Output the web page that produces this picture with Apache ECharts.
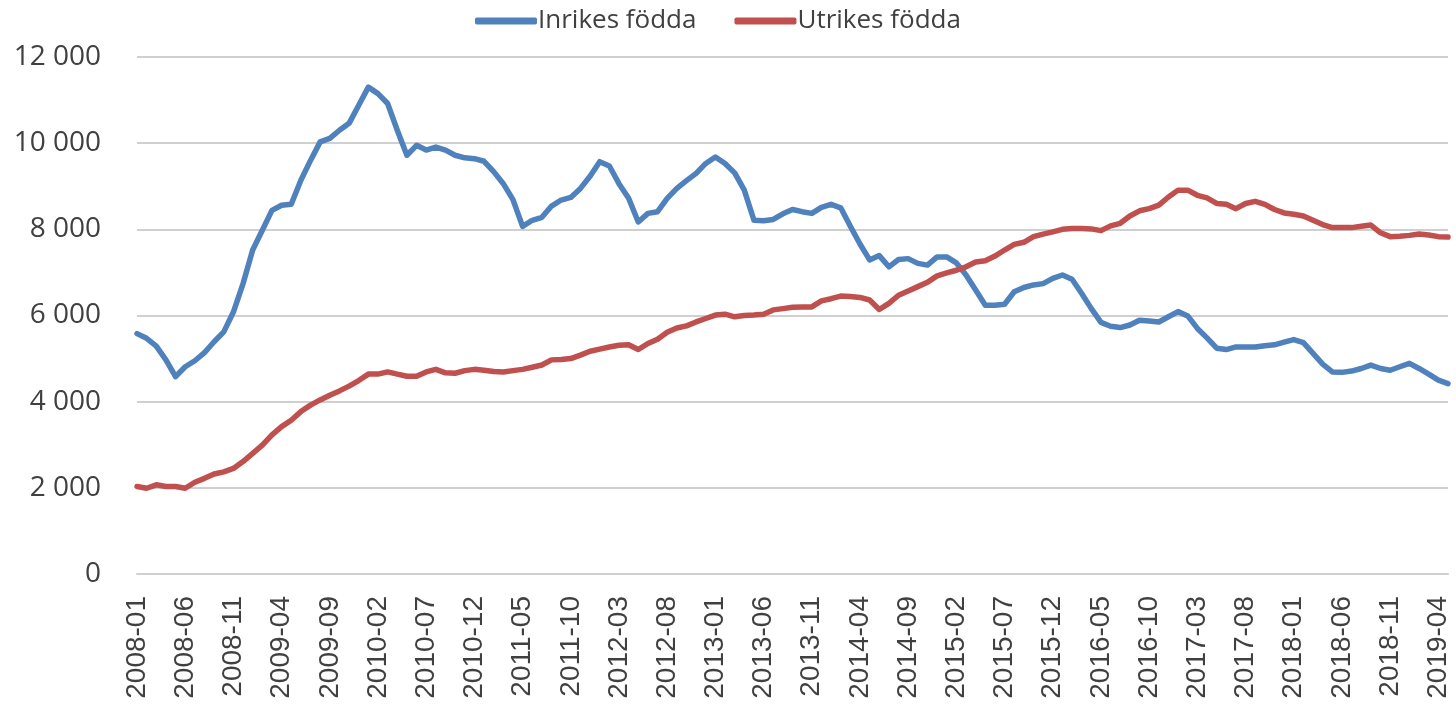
<!DOCTYPE html>
<html>
<head>
<meta charset="utf-8">
<script src="https://cdn.jsdelivr.net/npm/echarts@6/dist/echarts.min.js"></script>
<style>
  html, body { margin: 0; padding: 0; background: #fff; }
  #chart { width: 1456px; height: 706px; }
</style>
</head>
<body>
<div id="chart"></div>
<script>
// months 2008-01 .. 2019-05
const months = [];
for (let y = 2008; y <= 2019; y++) {
    for (let m = 1; m <= 12; m++) {
        if (y === 2019 && m > 5) break;
        months.push(y + '-' + String(m).padStart(2, '0'));
    }
}

const seriesNames = ['Inrikes födda', 'Utrikes födda'];

const inrikes = [
    5580, 5470, 5290, 4970, 4580, 4810, 4950, 5140, 5390, 5620,
    6080, 6740, 7520, 7980, 8440, 8560, 8580, 9140, 9600, 10030,
    10110, 10300, 10460, 10880, 11300, 11150, 10920, 10300, 9720, 9950,
    9840, 9910, 9840, 9720, 9660, 9640, 9580, 9340, 9060, 8690,
    8070, 8210, 8280, 8540, 8680, 8740, 8950, 9230, 9570, 9470,
    9060, 8720, 8170, 8370, 8410, 8720, 8950, 9130, 9300, 9530,
    9680, 9530, 9310, 8910, 8210, 8200, 8230, 8360, 8460, 8410,
    8370, 8510, 8580, 8500, 8070, 7660, 7290, 7390, 7130, 7300,
    7320, 7210, 7170, 7360, 7360, 7220, 6940, 6590, 6240, 6240,
    6260, 6550, 6650, 6710, 6740, 6860, 6940, 6840, 6510, 6160,
    5840, 5750, 5720, 5780, 5890, 5870, 5850, 5970, 6090, 5990,
    5700, 5480, 5240, 5210, 5270, 5270, 5270, 5300, 5320, 5380,
    5440, 5370, 5120, 4870, 4690, 4680, 4710, 4770, 4850, 4770,
    4730, 4810, 4890, 4770, 4640, 4500, 4420
];

const utrikes = [
    2030, 1990, 2070, 2030, 2030, 1990, 2130, 2220, 2320, 2370,
    2450, 2610, 2800, 2990, 3230, 3420, 3570, 3770, 3920, 4040,
    4150, 4250, 4360, 4490, 4640, 4640, 4690, 4640, 4590, 4590,
    4690, 4750, 4670, 4660, 4720, 4750, 4730, 4700, 4690, 4720,
    4750, 4800, 4850, 4970, 4980, 5000, 5080, 5170, 5220, 5270,
    5310, 5320, 5210, 5350, 5450, 5610, 5710, 5760, 5850, 5930,
    6010, 6030, 5970, 6000, 6010, 6030, 6130, 6160, 6190, 6200,
    6200, 6340, 6390, 6450, 6440, 6420, 6360, 6140, 6280, 6470,
    6570, 6670, 6770, 6920, 6990, 7050, 7130, 7240, 7270, 7380,
    7520, 7650, 7700, 7830, 7890, 7940, 8000, 8020, 8020, 8010,
    7970, 8080, 8140, 8310, 8430, 8480, 8560, 8750, 8910, 8910,
    8790, 8730, 8600, 8580, 8480, 8600, 8650, 8580, 8460, 8380,
    8350, 8310, 8210, 8110, 8040, 8040, 8040, 8070, 8100, 7920,
    7830, 7840, 7860, 7890, 7870, 7830, 7820
];

const colors = ['#4f81bd', '#c0504d'];

function spaced(v) {
    return String(v).replace(/\B(?=(\d{3})+(?!\d))/g, ' ');
}

const chart = echarts.init(document.getElementById('chart'));
chart.setOption({
    animation: false,
    color: colors,
    legend: {
        top: 3,
        left: 470,
        icon: 'roundRect',
        itemWidth: 62,
        itemHeight: 7,
        itemGap: 38,
        textStyle: {
            fontFamily: 'Open Sans',
            fontSize: 26,
            color: '#404040',
            padding: [0, 0, 0, -4]
        },
        data: seriesNames
    },
    grid: {
        left: 137,
        right: 8,
        top: 57,
        bottom: 132
    },
    xAxis: {
        type: 'category',
        data: months,
        boundaryGap: false,
        axisLine: { lineStyle: { color: '#d0d0d0', width: 2 } },
        axisTick: { show: false },
        axisLabel: {
            interval: 4,
            rotate: 90,
            margin: 22,
            fontFamily: 'Liberation Sans',
            fontSize: 28,
            color: '#404040'
        }
    },
    yAxis: {
        type: 'value',
        min: 0,
        max: 12000,
        interval: 2000,
        axisLine: { show: false },
        axisTick: { show: false },
        splitLine: { lineStyle: { color: '#d0d0d0', width: 2 } },
        axisLabel: {
            margin: 36,
            fontFamily: 'Open Sans',
            fontSize: 28,
            color: '#404040',
            formatter: spaced
        }
    },
    series: [
        {
            name: seriesNames[0],
            type: 'line',
            data: inrikes,
            symbol: 'none',
            lineStyle: { width: 5.5, color: colors[0], join: 'round', cap: 'round' }
        },
        {
            name: seriesNames[1],
            type: 'line',
            data: utrikes,
            symbol: 'none',
            lineStyle: { width: 5.5, color: colors[1], join: 'round', cap: 'round' }
        }
    ]
});
</script>
</body>
</html>
